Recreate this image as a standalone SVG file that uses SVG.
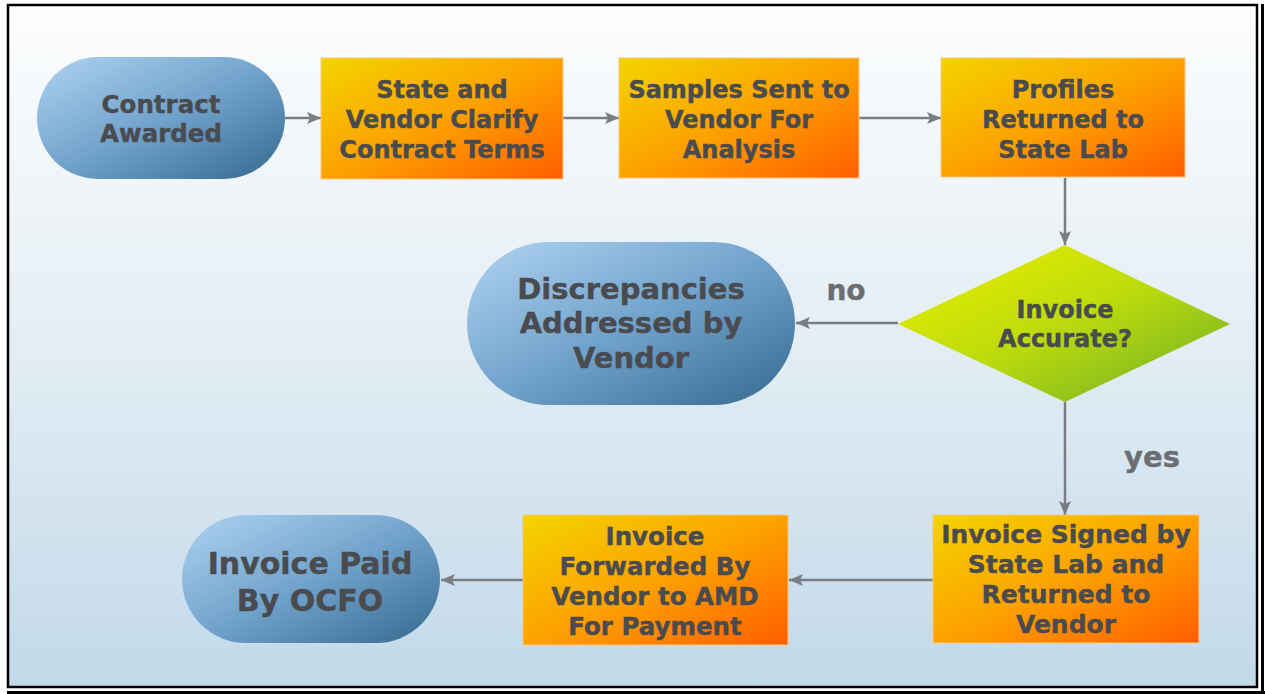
<svg xmlns="http://www.w3.org/2000/svg" width="1265" height="694" viewBox="0 0 1265 694">
  <defs>
    <linearGradient id="bg" x1="0" y1="0" x2="0" y2="1">
      <stop offset="0" stop-color="#fcfdfe"/>
      <stop offset="0.45" stop-color="#e6eff5"/>
      <stop offset="1" stop-color="#c2d9e9"/>
    </linearGradient>
    <linearGradient id="blue" x1="0" y1="0" x2="1" y2="1">
      <stop offset="0" stop-color="#b0d3f0"/>
      <stop offset="0.5" stop-color="#72a3cc"/>
      <stop offset="1" stop-color="#35698f"/>
    </linearGradient>
    <linearGradient id="orange" x1="0" y1="0" x2="1" y2="1">
      <stop offset="0" stop-color="#f3d400"/>
      <stop offset="0.5" stop-color="#fca200"/>
      <stop offset="1" stop-color="#ff5e00"/>
    </linearGradient>
    <linearGradient id="green" x1="0" y1="0" x2="1" y2="1">
      <stop offset="0" stop-color="#eef000"/>
      <stop offset="0.5" stop-color="#bcdb0c"/>
      <stop offset="1" stop-color="#6aab2a"/>
    </linearGradient>
    <marker id="arr" viewBox="0 0 14 12" refX="14" refY="6" markerWidth="14" markerHeight="12" markerUnits="userSpaceOnUse" orient="auto">
      <path d="M0,0 L14,6 L0,12 L3,6 Z" fill="#7a7e84"/>
    </marker>
  </defs>
  <style>
    .lbl { font-family: "DejaVu Sans", Verdana, sans-serif; font-weight: bold; fill: #494b4f; stroke: #494b4f; stroke-width: 0.4; text-anchor: middle; }
    .edge { stroke: #7a7e84; stroke-width: 2.5; fill: none; marker-end: url(#arr); }
    .box { fill: url(#orange); stroke: #f8c880; stroke-width: 1; }
    .term { fill: url(#blue); }
    .tag { font-family: "DejaVu Sans", Verdana, sans-serif; font-weight: bold; fill: #6b6e72; stroke: #6b6e72; stroke-width: 0.4; text-anchor: middle; }
  </style>

  <rect x="0" y="0" width="1265" height="694" fill="#ffffff"/>
  <rect x="8" y="5" width="1249" height="682" fill="url(#bg)"/>
  <g id="frame" fill="none" stroke="#000">
    <rect x="8" y="5" width="1249" height="682" stroke-width="2.5"/>
    <line x1="1262.5" y1="4" x2="1262.5" y2="694" stroke-width="3"/>
    <line x1="7" y1="692.5" x2="1265" y2="692.5" stroke-width="3"/>
  </g>

  <g id="connectors">
    <line class="edge" x1="285" y1="118" x2="321" y2="118"/>
    <line class="edge" x1="563" y1="118" x2="619" y2="118"/>
    <line class="edge" x1="859" y1="118" x2="941" y2="118"/>
    <line class="edge" x1="1065" y1="178" x2="1065" y2="245"/>
    <line class="edge" x1="898" y1="323" x2="796" y2="323"/>
    <line class="edge" x1="1065" y1="402" x2="1065" y2="515"/>
    <line class="edge" x1="933" y1="580" x2="789" y2="580"/>
    <line class="edge" x1="523" y1="580" x2="441" y2="580"/>
    <text class="tag" x="846" y="300" font-size="28">no</text>
    <text class="tag" x="1152" y="467" font-size="29">yes</text>
  </g>

  <g id="n1">
    <rect class="term" x="37" y="57" width="248" height="122" rx="61" ry="61"/>
    <text class="lbl" font-size="24.5" x="161" y="113">Contract</text>
    <text class="lbl" font-size="24.5" x="161" y="142">Awarded</text>
  </g>

  <g id="n2">
    <rect class="box" x="321" y="58" width="242" height="121"/>
    <text class="lbl" font-size="24" x="442" y="98">State and</text>
    <text class="lbl" font-size="24" x="442" y="128">Vendor Clarify</text>
    <text class="lbl" font-size="24" x="442" y="158">Contract Terms</text>
  </g>

  <g id="n3">
    <rect class="box" x="619" y="58" width="240" height="120"/>
    <text class="lbl" font-size="24" x="739" y="98">Samples Sent to</text>
    <text class="lbl" font-size="24" x="739" y="128">Vendor For</text>
    <text class="lbl" font-size="24" x="739" y="158">Analysis</text>
  </g>

  <g id="n4">
    <rect class="box" x="941" y="58" width="244" height="119"/>
    <text class="lbl" font-size="24" x="1063" y="98">Profiles</text>
    <text class="lbl" font-size="24" x="1063" y="128">Returned to</text>
    <text class="lbl" font-size="24" x="1063" y="158">State Lab</text>
  </g>

  <g id="n5">
    <polygon points="1065,245 1230,324 1065,402 898,324" fill="url(#green)"/>
    <text class="lbl" font-size="24" x="1065" y="318">Invoice</text>
    <text class="lbl" font-size="24" x="1065" y="347">Accurate?</text>
  </g>

  <g id="n6">
    <rect class="term" x="467" y="242" width="328" height="163" rx="81.5" ry="81.5"/>
    <text class="lbl" font-size="29" x="631" y="299">Discrepancies</text>
    <text class="lbl" font-size="29" x="631" y="333">Addressed by</text>
    <text class="lbl" font-size="29" x="631" y="368">Vendor</text>
  </g>

  <g id="n7">
    <rect class="box" x="933" y="515" width="266" height="128"/>
    <text class="lbl" font-size="25" x="1066" y="543">Invoice Signed by</text>
    <text class="lbl" font-size="25" x="1066" y="573">State Lab and</text>
    <text class="lbl" font-size="25" x="1066" y="603">Returned to</text>
    <text class="lbl" font-size="25" x="1066" y="633">Vendor</text>
  </g>

  <g id="n8">
    <rect class="box" x="523" y="515" width="265" height="130"/>
    <text class="lbl" font-size="24.5" x="655" y="545">Invoice</text>
    <text class="lbl" font-size="24.5" x="655" y="575">Forwarded By</text>
    <text class="lbl" font-size="24.5" x="655" y="605">Vendor to AMD</text>
    <text class="lbl" font-size="24.5" x="655" y="635">For Payment</text>
  </g>

  <g id="n9">
    <rect class="term" x="182" y="515" width="258" height="128" rx="64" ry="64"/>
    <text class="lbl" font-size="30" x="310" y="574">Invoice Paid</text>
    <text class="lbl" font-size="30" x="310" y="611">By OCFO</text>
  </g>
</svg>
